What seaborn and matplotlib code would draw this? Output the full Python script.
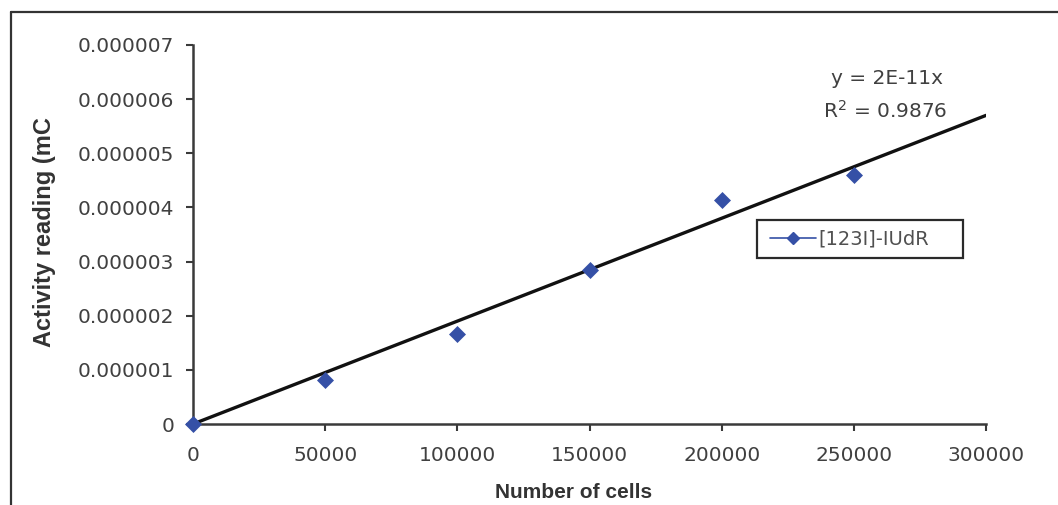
import numpy as np
import pandas as pd
import matplotlib
matplotlib.use("Agg")
import matplotlib.pyplot as plt
import seaborn as sns
from matplotlib.lines import Line2D
from matplotlib.patches import Rectangle
from matplotlib.ticker import FuncFormatter

# ---- data ----
cells = [0, 50000, 100000, 150000, 200000, 250000]
activity = [0.0, 0.82e-6, 1.66e-6, 2.85e-6, 4.14e-6, 4.60e-6]
series_name = "[123I]-IUdR"
x_label = "Number of cells"
y_label = "Activity reading (mC"
eq_text = "y = 2E-11x"
r2_text = "R$^2$ = 0.9876"
x_ticks = [0, 50000, 100000, 150000, 200000, 250000, 300000]
y_ticks = [0, 1e-6, 2e-6, 3e-6, 4e-6, 5e-6, 6e-6, 7e-6]

df = pd.DataFrame({"cells": cells, "activity": activity})

sns.set_style("ticks")
plt.rcParams["font.family"] = ["DejaVu Sans"]

W, H = 1058, 505
fig = plt.figure(figsize=(W / 100, H / 100), dpi=100)
fig.patch.set_facecolor("white")

x0, x1, y0, y1 = 193, 986, 45, 424
ax = fig.add_axes([x0 / W, 1 - y1 / H, (x1 - x0) / W, (y1 - y0) / H])
ax.set_facecolor("white")

blue = "#3550a6"

# trendline through origin (least squares, no intercept)
xa = np.array(cells, dtype=float)
ya = np.array(activity, dtype=float)
slope = (xa * ya).sum() / (xa * xa).sum()
trend = pd.DataFrame({"cells": [0, x_ticks[-1]]})
trend["fit"] = slope * trend["cells"]
sns.lineplot(data=trend, x="cells", y="fit", color="#111111", lw=2.4, ax=ax,
             legend=False, zorder=2)

sns.scatterplot(data=df, x="cells", y="activity", marker="D", s=75, color=blue,
                edgecolor=blue, linewidth=0, ax=ax, zorder=3, clip_on=False)

ax.set_xlim(x_ticks[0], x_ticks[-1])
ax.set_ylim(y_ticks[0], y_ticks[-1])
ax.set_xticks(x_ticks)
ax.set_yticks(y_ticks)
ax.xaxis.set_major_formatter(FuncFormatter(lambda v, p: f"{int(round(v))}"))
ax.yaxis.set_major_formatter(FuncFormatter(lambda v, p: "0" if v == 0 else f"{v:.6f}"))

for s in ["top", "right"]:
    ax.spines[s].set_visible(False)
for s in ["left", "bottom"]:
    ax.spines[s].set_color("#3a3a3a")
    ax.spines[s].set_linewidth(1.8)

ax.tick_params(axis="both", direction="out", length=5, width=1.5, color="#3a3a3a",
               labelsize=14.5, labelcolor="#404040")
ax.tick_params(axis="y", pad=8.5)
ax.tick_params(axis="x", pad=11)

ax.set_xlabel(x_label, fontsize=15, fontweight="bold", color="#333333",
              family="Liberation Sans", va="center")
ax.xaxis.set_label_coords((574 - x0) / (x1 - x0), -(492 - y1) / (y1 - y0))
ax.set_ylabel(y_label, fontsize=17, fontweight="bold", color="#333333",
              family="Liberation Sans", va="center")
ax.yaxis.set_label_coords((45 - x0) / (x1 - x0), (y1 - 232) / (y1 - y0))

# trendline equation
fig.text(887 / W, 1 - 78 / H, eq_text, fontsize=14.5, color="#404040",
         ha="center", va="center")
fig.text(885 / W, 1 - 111 / H, r2_text, fontsize=14.5, color="#404040",
         ha="center", va="center")

# legend
handle = Line2D([0], [0], color=blue, lw=1.2, marker="D", markersize=6,
                markerfacecolor=blue, markeredgecolor=blue)
leg = ax.legend([handle], [series_name], loc="center left",
                bbox_to_anchor=(770 / W, 1 - 239 / H), bbox_transform=fig.transFigure,
                frameon=False, fontsize=14, handlelength=2.35, handletextpad=0.15,
                borderpad=0, borderaxespad=0)
for t in leg.get_texts():
    t.set_color("#505050")
fig.patches.append(Rectangle((757 / W, 1 - 258 / H), (963 - 757) / W, (258 - 220) / H,
                             transform=fig.transFigure, fill=False,
                             edgecolor="#2a2a2a", lw=1.6))

# outer chart frame (top and left edges visible in the crop)
fig.lines.append(Line2D([10.5 / W, 1.0], [1 - 11.5 / H, 1 - 11.5 / H],
                        transform=fig.transFigure, color="#333333", lw=1.6))
fig.lines.append(Line2D([10.5 / W, 10.5 / W], [0.0, 1 - 11.5 / H],
                        transform=fig.transFigure, color="#333333", lw=1.6))

fig.savefig("out.png", dpi=100, facecolor="white")
